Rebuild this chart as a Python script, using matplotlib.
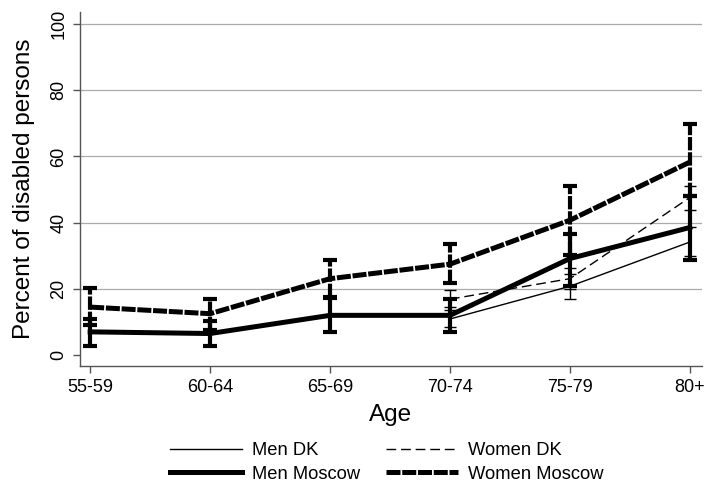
import matplotlib
matplotlib.use("Agg")
import matplotlib.pyplot as plt
import numpy as np

plt.rcParams['font.family'] = ['Liberation Sans', 'DejaVu Sans']

ages = ["55-59", "60-64", "65-69", "70-74", "75-79", "80+"]

men_moscow = [6.9, 6.4, 11.9, 11.9, 29.1, 38.5]
men_moscow_lo = [2.5, 2.5, 7.0, 6.9, 20.7, 28.6]
men_moscow_hi = [10.9, 10.2, 17.3, 16.8, 36.6, 47.9]

women_moscow = [14.4, 12.4, 23.0, 27.4, 40.7, 58.3]
women_moscow_lo = [8.9, 7.4, 17.5, 21.6, 30.1, 47.9]
women_moscow_hi = [20.1, 16.7, 28.6, 33.5, 51.0, 69.8]

dk_ages = ["70-74", "75-79", "80+"]
men_dk = [10.8, 20.7, 34.1]
men_dk_lo = [8.4, 17.0, 29.9]
men_dk_hi = [13.5, 24.4, 38.7]

women_dk = [16.8, 23.0, 47.6]
women_dk_lo = [14.5, 19.8, 43.9]
women_dk_hi = [19.5, 26.2, 51.0]

fig = plt.figure(figsize=(7.14, 4.92), dpi=100)
ax = fig.add_axes([0.112, 0.256, 0.871, 0.72])

x_all = np.arange(len(ages))
x_dk = np.array([ages.index(a) for a in dk_ages])

def err(v, lo, hi):
    v = np.array(v); return np.vstack([v - np.array(lo), np.array(hi) - v])

thin = 1.0
thick = 3.6

# Men DK
l1, c1, b1 = ax.errorbar(x_dk, men_dk, yerr=err(men_dk, men_dk_lo, men_dk_hi),
                         color='black', lw=thin, elinewidth=thin, capsize=4.5,
                         capthick=thin, label='Men DK', zorder=3)
# Women DK
l2, c2, b2 = ax.errorbar(x_dk, women_dk, yerr=err(women_dk, women_dk_lo, women_dk_hi),
                         color='black', lw=thin, elinewidth=thin, capsize=4.5,
                         capthick=thin, label='Women DK', zorder=3)
l2.set_dashes((7, 3.5))
# Men Moscow
l3, c3, b3 = ax.errorbar(x_all, men_moscow, yerr=err(men_moscow, men_moscow_lo, men_moscow_hi),
                         color='black', lw=thick, elinewidth=3.0, capsize=4.8,
                         capthick=3.0, label='Men Moscow', zorder=4)
# Women Moscow
l4, c4, b4 = ax.errorbar(x_all, women_moscow, yerr=err(women_moscow, women_moscow_lo, women_moscow_hi),
                         color='black', lw=thick, elinewidth=3.0, capsize=4.8,
                         capthick=3.0, label='Women Moscow', zorder=4)
l4.set_dashes((2.8, 0.35))
for bc in b4:
    bc.set_linestyle((0, (3.2, 0.45)))

ax.set_xlim(-0.085, 5.1)
ax.set_ylim(-3.45, 103.8)
ax.set_xticks(x_all)
ax.set_xticklabels(ages)
ax.set_yticks([0, 20, 40, 60, 80, 100])
ax.set_yticklabels(['0', '20', '40', '60', '80', '100'], rotation=90, va='center')
for yv in [20, 40, 60, 80, 100]:
    ax.axhline(yv, color='#aaaaaa', lw=0.9, zorder=1)

for s in ['top', 'right']:
    ax.spines[s].set_visible(False)
for s in ['left', 'bottom']:
    ax.spines[s].set_color('#555555')
    ax.spines[s].set_linewidth(1.0)
ax.tick_params(axis='both', direction='out', length=5, width=1.0, color='#555555',
               labelsize=13, pad=4)
ax.set_xlabel('Age', fontsize=17.5, labelpad=6)
ax.set_ylabel('Percent of disabled persons', fontsize=17.5, labelpad=11)

fig.legend(handles=[l1, l3, l2, l4], labels=['Men DK', 'Men Moscow', 'Women DK', 'Women Moscow'],
           ncol=2, loc='center', bbox_to_anchor=(0.5416, 0.06), frameon=False,
           fontsize=13.2, handlelength=3.9, handletextpad=0.55, columnspacing=1.45,
           labelspacing=0.35, borderpad=0.2)

fig.savefig('out.png', dpi=100)
